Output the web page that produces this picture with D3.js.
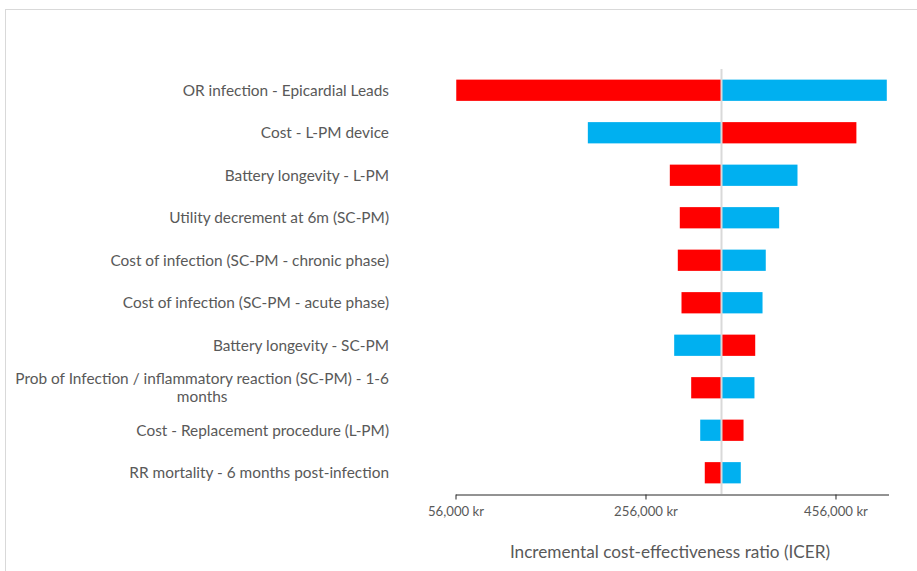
<!DOCTYPE html>
<html><head><meta charset="utf-8">
<script src="https://cdn.jsdelivr.net/npm/d3@7"></script>
<style>body{margin:0;background:#fff}svg{display:block}</style>
</head><body>
<svg id="c" width="917" height="571"></svg>
<script>
const categories = [
  "OR infection - Epicardial Leads",
  "Cost - L-PM device",
  "Battery longevity - L-PM",
  "Utility decrement at 6m (SC-PM)",
  "Cost of infection (SC-PM - chronic phase)",
  "Cost of infection (SC-PM - acute phase)",
  "Battery longevity - SC-PM",
  "Prob of Infection / inflammatory reaction (SC-PM) - 1-6 months",
  "Cost - Replacement procedure (L-PM)",
  "RR mortality - 6 months post-infection"
];
const baseICER = 336000;
// red series (low input value) and blue series (high input value) ICER results
const redValues  = [56800, 478000, 281600, 292100, 290000, 293900, 371500, 304100, 359200, 318400];
const blueValues = [510000, 195300, 416000, 396700, 382600, 379200, 286200, 370700, 313600, 356300];
const tickValues = [56000, 256000, 456000];
const axisTitle = "Incremental cost-effectiveness ratio (ICER)";

const svg = d3.select("#c");
const font = "Lato, 'Open Sans', sans-serif";
const grey = "#595959";

// chart border
svg.append("rect").attr("x",5.5).attr("y",9.5).attr("width",1000).attr("height",1000)
  .attr("fill","none").attr("stroke","#d9d9d9").attr("stroke-width",1);

const x = d3.scaleLinear().domain([56000, 511800]).range([455.5, 888.5]);
const y = d3.scaleBand().domain(categories).range([69, 494]).paddingInner(0.5).paddingOuter(0.25);

const rows = categories.map((c,i)=>({c, red:redValues[i], blue:blueValues[i]}));

const g = svg.append("g");
function seg(v){ return v < baseICER ? [x(v), x(baseICER)] : [x(baseICER), x(v)]; }
rows.forEach(r=>{
  [["red","#ff0000"],["blue","#00b0f0"]].forEach(([k,col])=>{
    const [a,b] = seg(r[k]);
    g.append("rect").attr("x",a).attr("width",b-a)
      .attr("y",y(r.c)).attr("height",y.bandwidth())
      .attr("fill",col);
  });
});

// base line
svg.append("line").attr("x1",x(baseICER)).attr("x2",x(baseICER)).attr("y1",69).attr("y2",494)
  .attr("stroke","#d9d9d9").attr("stroke-width",2);

// axis
const axis = d3.axisBottom(x).tickValues(tickValues).tickSize(5).tickSizeOuter(0)
  .tickFormat(d=>d3.format(",")(d)+" kr");
const ag = svg.append("g").attr("transform","translate(0,494.5)").call(axis);
ag.select(".domain").attr("stroke","#262626");
ag.selectAll(".tick line").attr("stroke","#262626").attr("y2",5);
ag.selectAll(".tick text").attr("fill",grey).attr("font-family",font).attr("font-size",13.2).attr("y",12).attr("dy","0.71em");

svg.append("text").attr("x",670).attr("y",558).attr("text-anchor","middle")
  .attr("fill",grey).attr("font-family",font).attr("font-size",17.2).text(axisTitle);

// category labels
const maxW = 385;
const fs = 15.4;
const lg = svg.append("g");
rows.forEach(r=>{
  const cy = y(r.c) + y.bandwidth()/2;
  const t = lg.append("text").attr("font-family",font).attr("font-size",fs).attr("fill",grey);
  t.text(r.c);
  const w = t.node().getComputedTextLength();
  if (w <= maxW) {
    t.attr("x",389).attr("y",cy).attr("dy","0.35em").attr("text-anchor","end");
  } else {
    const words = r.c.split(" ");
    let line1 = [], line2 = [];
    t.text("");
    for (const wd of words) {
      t.text([...line1, wd].join(" "));
      if (line2.length===0 && t.node().getComputedTextLength() <= maxW) line1.push(wd);
      else line2.push(wd);
    }
    t.text(line1.join(" "));
    const w1 = t.node().getComputedTextLength();
    t.text("");
    const cx = 389 - w1/2;
    t.attr("text-anchor","middle");
    t.append("tspan").attr("x",cx).attr("y",cy-9).attr("dy","0.35em").text(line1.join(" "));
    t.append("tspan").attr("x",cx).attr("y",cy+9).attr("dy","0.35em").text(line2.join(" "));
  }
});
</script>
</body></html>
